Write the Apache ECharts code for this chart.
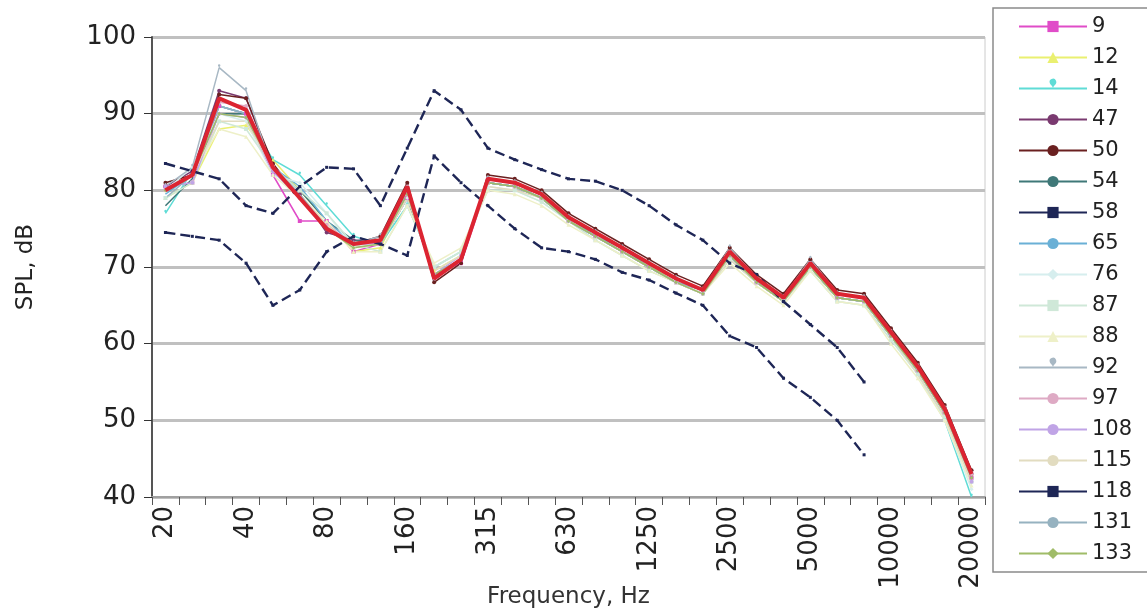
<!DOCTYPE html>
<html>
<head>
<meta charset="utf-8">
<script src="https://cdn.jsdelivr.net/npm/echarts@6/dist/echarts.min.js"></script>
<style>
html, body { margin: 0; padding: 0; background: #fff; }
#chart { width: 1147px; height: 614px; }
</style>
</head>
<body>
<div id="chart"></div>
<script>
// 1/3 octave bands
const freqs = ['20', '25', '31.5', '40', '50', '63', '80', '100', '125', '160', '200', '250', '315', '400', '500', '630',
    '800', '1000', '1250', '1600', '2000', '2500', '3150', '4000', '5000', '6300', '8000', '10000', '12500', '16000', '20000']

const s9 = [80.5, 81, 91, 90, 82, 76, 76, 72, 73, 79, 69, 70.5, 81, 80.5, 79, 76, 74, 72, 70, 68, 67, 71.5, 68, 66, 70, 66, 65.5, 61, 56.5, 51, 42.5]
const s12 = [79, 81, 88, 88.5, 84, 80, 76, 72, 72.5, 79.5, 69.5, 71.5, 81, 80.5, 79, 76, 74, 72, 70, 68.5, 67, 71.5, 68.5, 66, 70, 66.5, 66, 61, 57, 51, 43]
const s14 = [77, 82.5, 91, 90, 84, 82, 78, 74, 73, 78, 70, 72, 81, 80.5, 79, 76.5, 74, 72.5, 70, 68, 66.5, 71, 68, 65.5, 70, 66, 65.5, 61, 56, 50, 40]
const s47 = [80.5, 82.5, 93, 92, 83, 79.5, 74.5, 73.5, 73.5, 80, 68.5, 71, 81.5, 81, 79.5, 76.5, 74.5, 72.5, 70.5, 68.5, 67, 72, 68.5, 66, 70.5, 66.5, 66, 61.5, 57, 51.5, 43]
const s50 = [81, 82, 92.5, 92, 83.5, 79, 75, 73, 74, 81, 68, 70.5, 82, 81.5, 80, 77, 75, 73, 71, 69, 67.5, 72.5, 69, 66.5, 71, 67, 66.5, 62, 57.5, 52, 43.5]
const s54 = [78, 81.5, 90, 90, 83, 80, 76, 73.5, 73, 79, 69, 71, 81, 80.5, 79, 76, 74, 72, 70, 68, 66.5, 71.5, 68, 65.5, 70, 66, 65.5, 61, 56.5, 51, 42]
const s58 = [83.5, 82.5, 81.5, 78, 77, 80.5, 83, 82.8, 78, 85.5, 93, 90.5, 85.5, 84, 82.7, 81.5, 81.2, 80, 78, 75.5, 73.5, 70.5, 69, 65.5, 62.5, 59.5, 55, null, null, null, null]
const s65 = [79.5, 82, 91, 90, 83, 80.5, 76, 73, 73.5, 79.5, 69, 71, 81, 80.5, 79, 76, 74, 72, 70, 68, 67, 71.5, 68, 66, 70, 66, 65.5, 61, 56.5, 51, 42.5]
const s76 = [80, 83, 90, 89, 82, 81, 77, 72.5, 73, 79, 70, 72, 80.5, 80, 78.5, 76, 73.5, 71.5, 69.5, 68, 66.5, 71, 68, 65.5, 69.5, 65.5, 65, 60.5, 56, 50, 41]
const s87 = [79, 81, 89, 88, 83, 80, 77, 73, 72, 78, 70, 72, 80, 80, 78.5, 76, 73.5, 71.5, 69.5, 68, 66.5, 71, 68, 65.5, 69.5, 65.5, 65, 60.5, 56, 50.5, 42]
const s88 = [80, 82, 88, 87, 82, 79, 76, 72, 72, 78, 70.5, 72.5, 80, 79.5, 78, 75.5, 73.5, 71.5, 69.5, 68, 66.5, 70.5, 67.5, 65, 69.5, 65.5, 65, 60, 55.5, 50, 41.5]
const s92 = [80.5, 83, 96, 93, 82.5, 79, 75, 73, 74, 80, 68.5, 71, 81.5, 81, 79.5, 76.5, 74.5, 72.5, 70.5, 68.5, 67, 72.5, 68.5, 66, 71, 66.5, 66, 61.5, 57, 51.5, 43]
const s97 = [80, 82, 91.5, 91, 83, 79, 75.5, 73, 73.5, 80.5, 68.5, 71, 81.5, 81, 79.5, 76.5, 74.5, 72.5, 70.5, 68.5, 67, 72, 68.5, 66, 70.5, 66.5, 66, 61.5, 57, 51.5, 43]
const s108 = [80.5, 81, 90, 89.5, 82.5, 79, 75, 73, 73, 79.5, 69, 71.5, 81, 80.5, 79, 76, 74, 72, 70, 68, 66.5, 71.5, 68, 65.5, 70, 66, 65.5, 61, 56.5, 51, 42]
const s115 = [80, 82, 89, 89, 83, 79.5, 75.5, 72.5, 73, 79, 69.5, 71.5, 80.5, 80, 79, 76, 74, 72, 70, 68, 66.5, 71, 68, 65.5, 70, 66, 65.5, 61, 56, 50.5, 42]
const s118 = [74.5, 74, 73.5, 70.5, 65, 67, 72, 74, 73, 71.5, 84.5, 81, 78, 75, 72.5, 72, 71, 69.3, 68.3, 66.6, 65, 61, 59.5, 55.5, 53, 50, 45.5, null, null, null, null]
const s131 = [79, 82, 91, 90, 83, 79.5, 75, 73, 73.5, 80, 69, 71, 81, 80.5, 79, 76, 74, 72, 70, 68, 67, 71.5, 68, 66, 70, 66, 65.5, 61, 56.5, 51, 42.5]
const s133 = [80, 82, 90, 89.5, 83, 79, 75, 72.5, 73, 79.5, 69, 71, 81, 80.5, 79, 76, 74, 72, 70, 68, 66.5, 71.5, 68, 65.5, 70, 66, 65.5, 61, 56.5, 51, 42.5]
// thick red curve (not listed in legend)
const average = [80, 82, 92, 90.5, 83, 79, 75, 73, 73.5, 80.5, 68.5, 71, 81.5, 81, 79.5, 76.5, 74.5, 72.5, 70.5, 68.5, 67, 72, 68.5, 66, 70.5, 66.5, 66, 61.5, 57, 51.5, 43]

const yTicks = [40, 50, 60, 70, 80, 90, 100]

const FONT = '"DejaVu Sans", sans-serif'

function pale(name, data, color, symbol) {
    return {
        name: name,
        type: 'line',
        data: data,
        symbol: symbol,
        symbolSize: 4,
        lineStyle: { color: color, width: 1.5 },
        itemStyle: { color: color },
        z: 2,
    }
}

function dashed(name, data) {
    return {
        name: name,
        type: 'line',
        data: data,
        symbol: 'rect',
        symbolSize: 3,
        lineStyle: { color: '#1e2656', width: 2.4, type: [10, 5] },
        itemStyle: { color: '#1e2656' },
        z: 4,
    }
}

const series = [
    pale('9', s9, '#e04cc8', 'rect'),
    pale('12', s12, '#eaf070', 'triangle'),
    pale('14', s14, '#5fdcd6', 'pin'),
    pale('47', s47, '#7a3a70', 'circle'),
    pale('50', s50, '#6a2020', 'circle'),
    pale('54', s54, '#3f7878', 'none'),
    dashed('58', s58),
    pale('65', s65, '#6ab0d6', 'none'),
    pale('76', s76, '#d6eeee', 'diamond'),
    pale('87', s87, '#cfe8d8', 'rect'),
    pale('88', s88, '#eef0c8', 'triangle'),
    pale('92', s92, '#a8b8c4', 'pin'),
    pale('97', s97, '#deaac4', 'circle'),
    pale('108', s108, '#c0a4e6', 'circle'),
    pale('115', s115, '#e2dcc0', 'none'),
    dashed('118', s118),
    pale('131', s131, '#96b2c0', 'none'),
    pale('133', s133, '#a0bc68', 'diamond'),
    {
        name: 'avg',
        type: 'line',
        data: average,
        symbol: 'none',
        lineStyle: { color: '#dc2431', width: 4 },
        z: 5,
    },
]

const legendNames = ['9', '12', '14', '47', '50', '54', '58', '65', '76', '87', '88', '92', '97', '108', '115', '118', '131', '133']

const chart = echarts.init(document.getElementById('chart'))
chart.setOption({
    animation: false,
    backgroundColor: '#fff',
    grid: {
        left: 152,
        right: 162,
        top: 37,
        bottom: 117,
        outerBoundsMode: 'none',
        show: true,
        borderColor: '#cccccc',
        borderWidth: 1,
    },
    legend: {
        orient: 'vertical',
        left: 993,
        top: 8,
        data: legendNames.map(function (n) {
            return { name: n, lineStyle: { type: 'solid' } }
        }),
        itemWidth: 68,
        itemHeight: 14,
        itemGap: 10,
        padding: [8, 60, 8, 25],
        borderColor: '#8a8a8a',
        borderWidth: 1.5,
        textStyle: { fontFamily: FONT, fontSize: 21, color: '#222' },
    },
    xAxis: {
        type: 'category',
        data: freqs,
        boundaryGap: true,
        name: 'Frequency, Hz',
        nameLocation: 'middle',
        nameGap: 89,
        nameMoveOverlap: false,
        nameTextStyle: { fontFamily: FONT, fontSize: 23, color: '#333' },
        axisLine: { lineStyle: { color: '#a0a0a0', width: 2 } },
        axisTick: { show: true, interval: 0, length: 8, lineStyle: { color: '#555' } },
        axisLabel: {
            interval: 2,
            rotate: 90,
            margin: 9,
            fontFamily: FONT,
            fontSize: 26,
            color: '#222',
        },
        splitLine: { show: false },
    },
    yAxis: {
        type: 'value',
        min: yTicks[0],
        max: yTicks[yTicks.length - 1],
        interval: 10,
        name: 'SPL, dB',
        nameLocation: 'middle',
        nameRotate: 90,
        nameGap: 114,
        nameMoveOverlap: false,
        nameTextStyle: { fontFamily: FONT, fontSize: 23, color: '#222' },
        axisLine: { show: true, lineStyle: { color: '#555', width: 2 } },
        axisTick: { show: true, length: 8, lineStyle: { color: '#333' } },
        axisLabel: { margin: 16, fontFamily: FONT, fontSize: 26, color: '#222' },
        splitLine: { show: true, lineStyle: { color: '#c0c0c0', width: 3 } },
    },
    series: series,
})
</script>
</body>
</html>
